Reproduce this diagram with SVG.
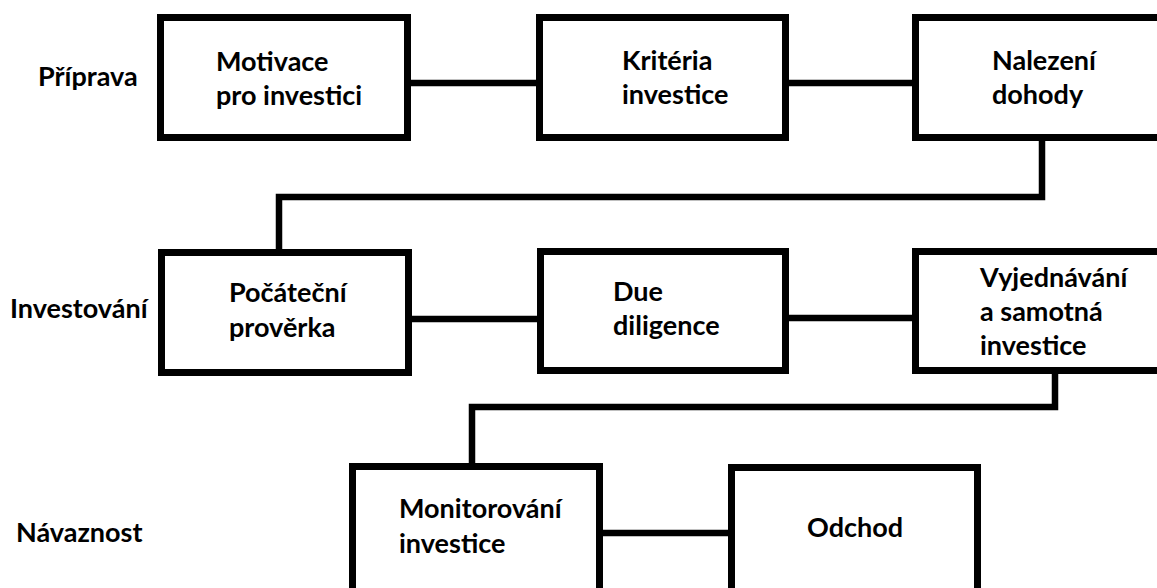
<svg xmlns="http://www.w3.org/2000/svg" width="1157" height="588" viewBox="0 0 1157 588">
<style>
.box{fill:#fff;stroke:#000;stroke-width:7}
.con{fill:none;stroke:#000;stroke-width:6.5;stroke-linejoin:miter}
text{font-family:Lato,"Open Sans","Liberation Sans",sans-serif;font-weight:bold;font-size:27px;fill:#000}
</style>
<rect width="1157" height="588" fill="#fff"/>
<g id="connectors">
<line class="con" x1="411" y1="83" x2="536" y2="83"/>
<line class="con" x1="789" y1="83" x2="912" y2="83"/>
<polyline class="con" points="1042,140 1042,197 279,197 279,249"/>
<line class="con" x1="412" y1="319" x2="537" y2="319"/>
<line class="con" x1="789" y1="318" x2="912" y2="318"/>
<polyline class="con" points="1055,374 1055,407 472,407 472,463"/>
<line class="con" x1="603" y1="533" x2="728" y2="533"/>
</g>
<g id="lbl-priprava"><text x="38" y="86">Příprava</text></g>
<g id="lbl-investovani"><text x="10" y="318">Investování</text></g>
<g id="lbl-navaznost"><text x="16" y="542">Návaznost</text></g>
<g id="n1"><rect class="box" x="160.5" y="17.5" width="247" height="120"/><text x="216" y="71">Motivace</text><text x="216" y="105">pro investici</text></g>
<g id="n2"><rect class="box" x="539.5" y="17.5" width="246" height="120"/><text x="622" y="70">Kritéria</text><text x="622" y="104">investice</text></g>
<g id="n3"><rect class="box" x="915.5" y="17.5" width="260" height="120"/><text x="992" y="70">Nalezení</text><text x="992" y="104">dohody</text></g>
<g id="n4"><rect class="box" x="161.5" y="252.5" width="247" height="120"/><text x="229" y="302">Počáteční</text><text x="229" y="337">prověrka</text></g>
<g id="n5"><rect class="box" x="540.5" y="251.5" width="245" height="119"/><text x="613" y="301">Due</text><text x="613" y="335">diligence</text></g>
<g id="n6"><rect class="box" x="915.5" y="251.5" width="260" height="119"/><text x="980" y="287">Vyjednávání</text><text x="980" y="321">a samotná</text><text x="980" y="355">investice</text></g>
<g id="n7"><rect class="box" x="352.5" y="466.5" width="247" height="140"/><text x="399" y="518">Monitorování</text><text x="399" y="553">investice</text></g>
<g id="n8"><rect class="box" x="731.5" y="467.5" width="246" height="140"/><text x="807" y="537">Odchod</text></g>
</svg>
